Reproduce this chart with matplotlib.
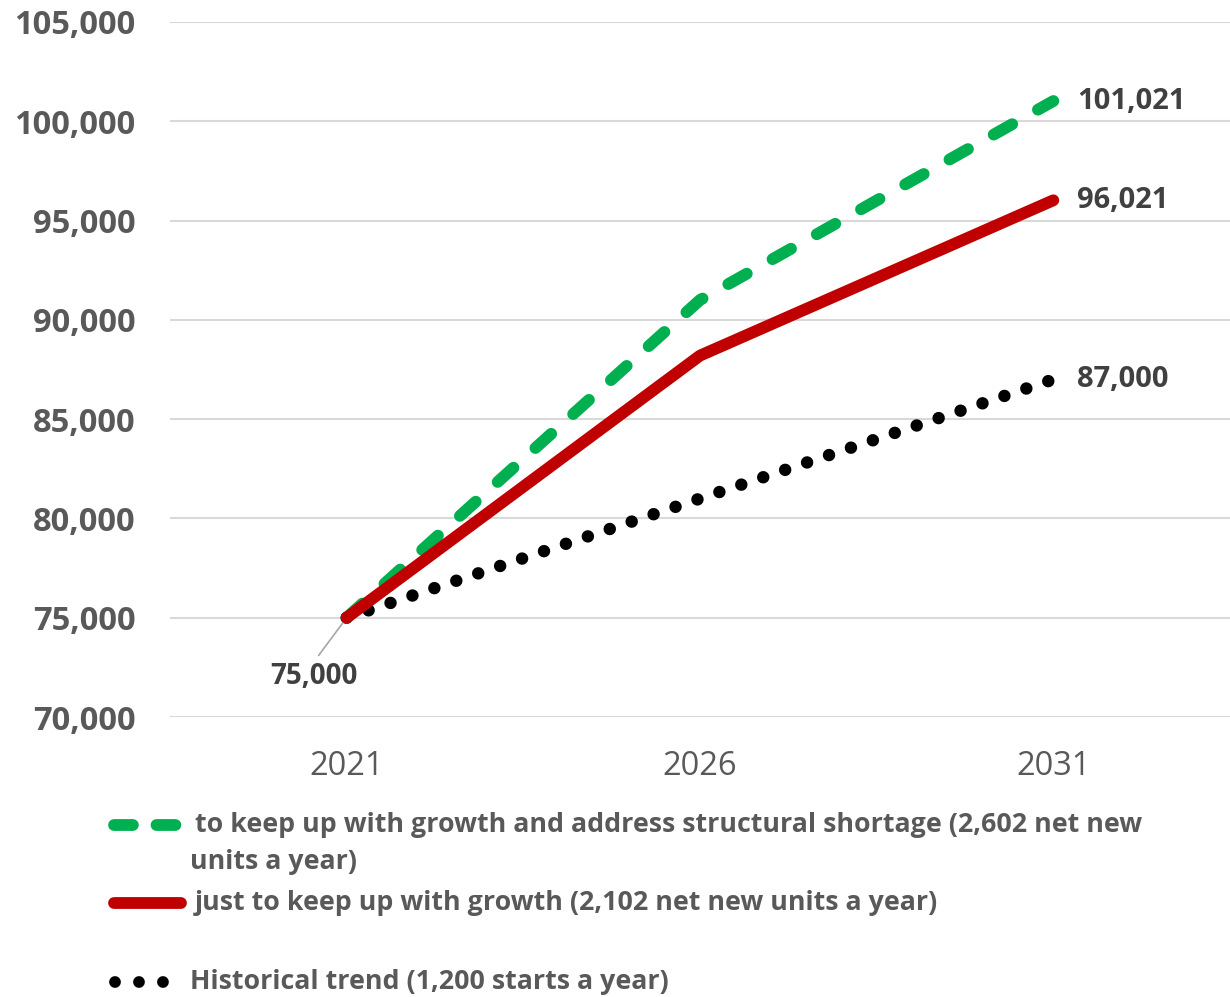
import matplotlib
matplotlib.use("Agg")
import matplotlib.pyplot as plt
from matplotlib.lines import Line2D
from matplotlib.ticker import FuncFormatter

years = ["2021", "2026", "2031"]
growth_shortage = [75000, 91000, 101021]
growth_only = [75000, 88200, 96021]
historical = [75000, 81000, 87000]

labels = [
    "to keep up with growth and address structural shortage (2,602 net new\nunits a year)",
    "just to keep up with growth (2,102 net new units a year)",
    "Historical trend (1,200 starts a year)",
]

GREEN = "#00B050"
RED = "#C00000"
GRAY = "#595959"
DARK = "#404040"
FONT = ["Open Sans", "DejaVu Sans"]
plt.rcParams["font.family"] = FONT

fig = plt.figure(figsize=(12.30, 9.97), dpi=100)
W, H = 1230, 997
ax = fig.add_axes([170 / W, 1 - 717 / H, (1230 - 170) / W, (717 - 22) / H])

DOTS = (0, (0.001, 1.85))
DASHES = (0, (1.8, 2.5))
x = list(range(len(years)))
hist_line, = ax.plot(x, historical, color="black", lw=9, linestyle=DOTS,
                     dash_capstyle="round", zorder=3)
green_line, = ax.plot(x, growth_shortage, color=GREEN, lw=8.5, linestyle=DASHES,
                      dash_capstyle="round", solid_joinstyle="round", zorder=4)
red_line, = ax.plot(x, growth_only, color=RED, lw=8.5, solid_capstyle="round",
                    solid_joinstyle="round", zorder=5)

ax.set_xlim(-0.5, 2.5)
ax.set_ylim(70000, 105000)
ax.set_yticks(range(70000, 105001, 5000))
ax.yaxis.set_major_formatter(FuncFormatter(lambda v, p: f"{int(v):,}"))
ax.set_xticks(x)
ax.set_xticklabels(years)
ax.grid(axis="y", color="#D9D9D9", lw=1.5)
ax.set_axisbelow(True)
for s in ax.spines.values():
    s.set_visible(False)
ax.tick_params(axis="both", length=0)
ax.tick_params(axis="y", pad=25, labelsize=23.5, labelcolor=GRAY)
ax.tick_params(axis="x", pad=24, labelsize=23.5, labelcolor=GRAY)
for t in ax.get_yticklabels():
    t.set_fontweight("bold")

# End labels
for series in (growth_shortage, growth_only, historical):
    ax.annotate(f"{series[-1]:,}", xy=(x[-1], series[-1]), xytext=(17, 0),
                textcoords="offset points", ha="left", va="center",
                fontsize=21, fontweight="bold", color=DARK)
ax.annotate(f"{historical[0]:,}", xy=(x[0], historical[0]), xytext=(8, -42),
            textcoords="offset points", ha="right", va="center",
            fontsize=20, fontweight="bold", color=DARK,
            arrowprops=dict(arrowstyle="-", color="#A6A6A6", lw=1.2,
                            shrinkA=3, shrinkB=3, relpos=(0.5, 1.0)))

# Manual legend (pixel positions converted to figure fraction)
def fx(px):
    return px / W

def fy(py):
    return 1 - py / H

legend_font = dict(fontsize=19.3, fontweight="bold", color=GRAY, va="center", ha="left")

fig.add_artist(Line2D([fx(114), fx(181)], [fy(825), fy(825)], color=GREEN, lw=8.5,
                      linestyle=(0, (1.6, 2.0)), dash_capstyle="round"))
g1, g2 = labels[0].split("\n")
fig.text(fx(195), fy(825), g1, **legend_font)
fig.text(fx(190), fy(862), g2, **legend_font)

fig.add_artist(Line2D([fx(114), fx(181)], [fy(903), fy(903)], color=RED, lw=8.5,
                      solid_capstyle="round"))
fig.text(fx(195), fy(903), labels[1], **legend_font)

fig.add_artist(Line2D([fx(115), fx(164)], [fy(982), fy(982)], color="black", lw=8.5,
                      linestyle=(0, (0.001, 2.03)), dash_capstyle="round"))
fig.text(fx(190), fy(982), labels[2], **legend_font)

fig.savefig("out.png", dpi=100)
